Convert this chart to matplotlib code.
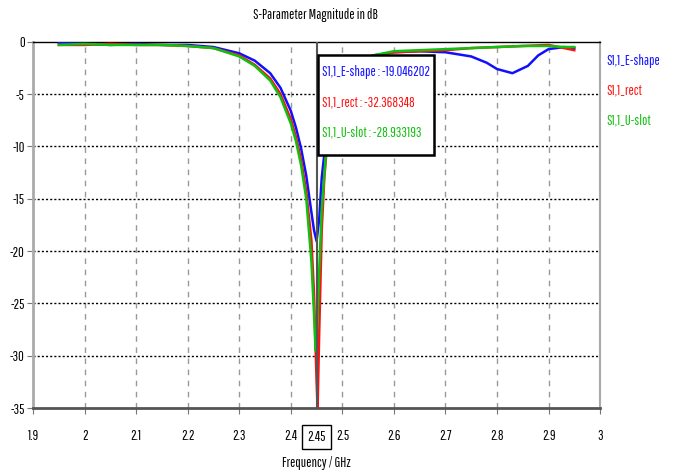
import matplotlib
matplotlib.use("Agg")
import matplotlib.pyplot as plt
from matplotlib.patches import Rectangle
from matplotlib import font_manager as fm

# ---- data ----
f_e = [1.95, 2.0, 2.05, 2.1, 2.15, 2.2, 2.25, 2.3, 2.33, 2.36, 2.38, 2.4, 2.41, 2.42, 2.43, 2.44,
       2.445, 2.45, 2.455, 2.46, 2.47, 2.48, 2.5, 2.53, 2.56, 2.6, 2.65, 2.7, 2.75, 2.78, 2.8,
       2.83, 2.86, 2.88, 2.9, 2.93, 2.95]
s_e = [-0.1, -0.2, -0.3, -0.2, -0.3, -0.3, -0.5, -1.1, -1.8, -3.0, -4.4, -6.6, -8.2, -10.2, -12.8, -16.3,
       -18.0, -19.05, -17.0, -13.0, -8.5, -5.5, -3.0, -1.8, -1.3, -1.0, -0.9, -1.0, -1.4, -2.0, -2.6,
       -3.0, -2.3, -1.3, -0.7, -0.5, -0.6]

f_r = [1.95, 2.0, 2.05, 2.1, 2.15, 2.2, 2.25, 2.3, 2.33, 2.36, 2.38, 2.4, 2.41, 2.42, 2.43, 2.44,
       2.445, 2.45, 2.452, 2.455, 2.46, 2.465, 2.47, 2.48, 2.5, 2.53, 2.56, 2.6, 2.65, 2.7, 2.75,
       2.8, 2.85, 2.9, 2.93, 2.95]
s_r = [-0.3, -0.3, -0.2, -0.3, -0.3, -0.4, -0.6, -1.3, -2.2, -3.5, -5.0, -7.4, -9.1, -11.3, -14.3, -19.0,
       -24.0, -32.37, -35.0, -28.0, -18.0, -13.0, -10.0, -6.5, -3.5, -2.0, -1.4, -1.0, -0.9, -0.8, -0.6,
       -0.5, -0.4, -0.3, -0.6, -0.8]

f_u = [1.95, 2.0, 2.05, 2.1, 2.15, 2.2, 2.25, 2.3, 2.33, 2.36, 2.38, 2.4, 2.41, 2.42, 2.43, 2.44,
       2.445, 2.448, 2.45, 2.455, 2.46, 2.47, 2.48, 2.5, 2.53, 2.56, 2.6, 2.65, 2.7, 2.75, 2.8,
       2.85, 2.9, 2.93, 2.95]
s_u = [-0.3, -0.2, -0.3, -0.3, -0.3, -0.4, -0.6, -1.4, -2.3, -3.7, -5.3, -7.8, -9.5, -11.8, -15.0, -21.0,
       -26.0, -29.5, -28.93, -22.0, -16.0, -9.5, -6.2, -3.4, -1.9, -1.3, -0.9, -0.8, -0.7, -0.6, -0.5,
       -0.4, -0.4, -0.5, -0.5]

series_names = ["S1,1_E-shape", "S1,1_rect", "S1,1_U-slot"]
series_colors = ["#1010ff", "#ff1010", "#10c010"]
marker_f = 2.45
marker_vals = ["-19.046202", "-32.368348", "-28.933193"]

x_ticks = [1.9, 2.0, 2.1, 2.2, 2.3, 2.4, 2.5, 2.6, 2.7, 2.8, 2.9, 3.0]
x_labels = ["1.9", "2", "2.1", "2.2", "2.3", "2.4", "2.5", "2.6", "2.7", "2.8", "2.9", "3"]
y_ticks = [0, -5, -10, -15, -20, -25, -30, -35]

# ---- font choice: a narrow family if one is present ----
family = 'Liberation Sans'
for cand in ['Pathway Gothic One', 'Roboto Condensed', 'Barlow Condensed', 'Archivo Narrow',
             'Liberation Sans']:
    try:
        fm.findfont(fm.FontProperties(family=cand), fallback_to_default=False)
        family = cand
        break
    except Exception:
        pass
plt.rcParams['font.family'] = [family, 'DejaVu Sans']

fig = plt.figure(figsize=(6.75, 4.75), dpi=100)

# fit font size so the marker-box line has the reference width (~108 px)
renderer = fig.canvas.get_renderer()
probe = fig.text(0, 0, "S1,1_E-shape : -19.046202", fontsize=10)
w10 = probe.get_window_extent(renderer=renderer).width
probe.remove()
FS = min(11.5, 10 * 108.0 / w10)

ax = fig.add_axes([0.049, 0.141, 0.840, 0.771])

for fx, sy, c in zip([f_e, f_r, f_u], [s_e, s_r, s_u], series_colors):
    ax.plot(fx, sy, color=c, lw=1.8, zorder=3)

ax.set_xlim(1.9, 3.0)
ax.set_ylim(-35, 0)
ax.set_xticks(x_ticks)
ax.set_xticklabels(x_labels, fontsize=FS)
ax.set_yticks(y_ticks)
ax.set_yticklabels([str(v) for v in y_ticks], fontsize=FS)
ax.tick_params(axis='both', direction='out', length=4, color='#777777')
ax.tick_params(axis='x', pad=11)
ax.tick_params(axis='y', pad=2)

for xv in x_ticks[1:-1]:
    ax.axvline(xv, color='#999999', ls=(0, (4, 4)), lw=1.0, zorder=1)
for yv in y_ticks[1:-1]:
    ax.axhline(yv, color='black', ls=(0, (1.5, 1.5)), lw=1.0, zorder=1)

ax.spines['top'].set_color('black'); ax.spines['top'].set_linewidth(1.0)
ax.spines['bottom'].set_color('#555555'); ax.spines['bottom'].set_linewidth(2.0)
ax.spines['left'].set_color('#aaaaaa'); ax.spines['left'].set_linewidth(2.0)
ax.spines['right'].set_color('#aaaaaa'); ax.spines['right'].set_linewidth(1.5)

# marker line
ax.axvline(marker_f, color='#555555', lw=1.5, zorder=4)
ax.annotate("2.45", xy=(marker_f, 0), xycoords=('data', 'axes fraction'),
            xytext=(0, -21), textcoords='offset points', ha='center', va='center', fontsize=FS,
            bbox=dict(boxstyle='square,pad=0.35', fc='white', ec='black', lw=1.0))

# marker box
ax.add_patch(Rectangle((2.452, -10.8), 0.225, 9.55, fc='white', ec='black', lw=1.8, zorder=5))
box_lines = [f"{n} : {v}" for n, v in zip(series_names, marker_vals)]
for i, (t, c) in enumerate(zip(box_lines, series_colors)):
    ax.text(2.461, -2.87 - 2.87 * i, t, color=c, fontsize=FS, va='center', ha='left', zorder=6)

# legend texts
for i, (n, c) in enumerate(zip(series_names, series_colors)):
    fig.text(0.899, 0.872 - 0.063 * i, n, color=c, fontsize=FS, va='center', ha='left')

fig.text(0.468, 0.968, "S-Parameter Magnitude in dB", ha='center', va='center', fontsize=FS)
fig.text(0.468, 0.025, "Frequency / GHz", ha='center', va='center', fontsize=FS)

fig.savefig("out.png", dpi=100)
